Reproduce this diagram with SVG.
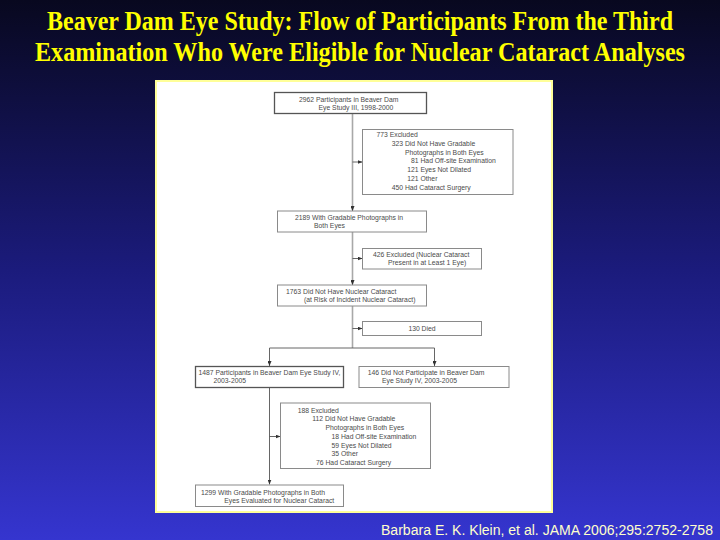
<svg xmlns="http://www.w3.org/2000/svg" width="720" height="540" viewBox="0 0 720 540">
<defs>
<linearGradient id="bg" x1="0" y1="0" x2="0" y2="1">
<stop offset="0" stop-color="#08081f"/>
<stop offset="0.5" stop-color="#1b1b7c"/>
<stop offset="1" stop-color="#3535cf"/>
</linearGradient>
<marker id="ah" markerUnits="userSpaceOnUse" markerWidth="5" markerHeight="4" refX="5" refY="2" orient="auto">
<path d="M0,0 L5,2 L0,4 z" fill="#333"/>
</marker>
<style>
.title{font-family:"Liberation Serif","Times New Roman",serif;font-weight:bold;font-size:23.5px;fill:#ffff00;text-anchor:middle}
.foot{font-family:"Liberation Sans",Arial,sans-serif;font-size:14px;fill:#ffffcc}
.box{fill:#fff;stroke:#8a8a8a;stroke-width:1}
.box.dk{stroke:#555;stroke-width:1.3}
.t{font-family:"Liberation Sans",Arial,sans-serif;font-size:6.8px;fill:#4a4a4a}
.c{text-anchor:middle}
.trunk{fill:none;stroke:#a8a8a8;stroke-width:1.6}
.ln{fill:none;stroke:#555;stroke-width:0.9}
</style>
</defs>
<rect x="0" y="0" width="720" height="540" fill="url(#bg)"/>
<g transform="translate(0,30) scale(1,1.12)"><text class="title" x="360" y="0" textLength="626" lengthAdjust="spacingAndGlyphs">Beaver Dam Eye Study: Flow of Participants From the Third</text></g>
<g transform="translate(0,61) scale(1,1.12)"><text class="title" x="360" y="0" textLength="650" lengthAdjust="spacingAndGlyphs">Examination Who Were Eligible for Nuclear Cataract Analyses</text></g>
<rect x="156" y="81" width="396" height="431" fill="#fff" stroke="#ffff99" stroke-width="2"/>
<text class="foot" x="381" y="535" textLength="332" lengthAdjust="spacingAndGlyphs">Barbara E. K. Klein, et al. JAMA 2006;295:2752-2758</text>

<g id="connectors">
<path class="trunk" d="M352.5,113 V210"/>
<path class="trunk" d="M352.5,232 V284"/>
<path class="trunk" d="M352.5,306 V348"/>
<path class="ln" d="M352.5,209 V211" marker-end="url(#ah)"/>
<path class="ln" d="M352.5,283 V285" marker-end="url(#ah)"/>
<path class="ln" d="M352.5,162 H362.5" marker-end="url(#ah)"/>
<path class="ln" d="M352.5,258.5 H362.5" marker-end="url(#ah)"/>
<path class="ln" d="M352.5,328.5 H362.5" marker-end="url(#ah)"/>
<path class="ln" d="M269.5,348 H434.5"/>
<path class="ln" d="M269.5,348 V366" marker-end="url(#ah)"/>
<path class="ln" d="M434.5,348 V366" marker-end="url(#ah)"/>
<path class="ln" d="M269.5,388 V484.5" marker-end="url(#ah)"/>
<path class="ln" d="M269.5,436.5 H280.5" marker-end="url(#ah)"/>
</g>

<g id="n1">
<rect class="box dk" x="274.5" y="92.5" width="152" height="21"/>
<text class="t" x="299" y="101.5">2962 Participants in Beaver Dam</text>
<text class="t" x="318.5" y="109.5">Eye Study III, 1998-2000</text>
</g>

<g id="n2">
<rect class="box" x="362.5" y="129.5" width="150.5" height="65"/>
<text class="t" x="376.5" y="137">773 Excluded</text>
<text class="t" x="391.7" y="145.8">323 Did Not Have Gradable</text>
<text class="t" x="405" y="154.6">Photographs in Both Eyes</text>
<text class="t" x="411" y="163.4">81 Had Off-site Examination</text>
<text class="t" x="407.2" y="172.2">121 Eyes Not Dilated</text>
<text class="t" x="407.2" y="181">121 Other</text>
<text class="t" x="391.7" y="189.8">450 Had Cataract Surgery</text>
</g>

<g id="n3">
<rect class="box" x="277.5" y="211" width="149" height="21"/>
<text class="t" x="295" y="219.5">2189 With Gradable Photographs in</text>
<text class="t" x="314" y="227.5">Both Eyes</text>
</g>

<g id="n4">
<rect class="box" x="362.5" y="248.5" width="119" height="20.5"/>
<text class="t" x="373" y="256.5">426 Excluded (Nuclear Cataract</text>
<text class="t" x="388" y="264.5">Present in at Least 1 Eye)</text>
</g>

<g id="n5">
<rect class="box" x="277.5" y="285" width="149" height="21"/>
<text class="t" x="286" y="293.5">1763 Did Not Have Nuclear Cataract</text>
<text class="t" x="304" y="301.5">(at Risk of Incident Nuclear Cataract)</text>
</g>

<g id="n6">
<rect class="box" x="362.5" y="321.5" width="119" height="14"/>
<text class="t c" x="422" y="331">130 Died</text>
</g>

<g id="n7">
<rect class="box dk" x="195.5" y="366.5" width="148" height="21"/>
<text class="t" x="198.5" y="375">1487 Participants in Beaver Dam Eye Study IV,</text>
<text class="t" x="213.5" y="383">2003-2005</text>
</g>

<g id="n8">
<rect class="box" x="359" y="366.5" width="150" height="21"/>
<text class="t" x="367.7" y="375">146 Did Not Participate in Beaver Dam</text>
<text class="t" x="382" y="383">Eye Study IV, 2003-2005</text>
</g>

<g id="n9">
<rect class="box" x="280.5" y="403" width="150" height="65.5"/>
<text class="t" x="297.7" y="412.5">188 Excluded</text>
<text class="t" x="312.3" y="421.3">112 Did Not Have Gradable</text>
<text class="t" x="325.5" y="430">Photographs in Both Eyes</text>
<text class="t" x="331.5" y="438.8">18 Had Off-site Examination</text>
<text class="t" x="331.5" y="447.5">59 Eyes Not Dilated</text>
<text class="t" x="331.5" y="456.3">35 Other</text>
<text class="t" x="316" y="465">76 Had Cataract Surgery</text>
</g>

<g id="n10">
<rect class="box" x="195.5" y="485" width="148" height="21.5"/>
<text class="t" x="201" y="494.5">1299 With Gradable Photographs in Both</text>
<text class="t" x="224.3" y="502.5">Eyes Evaluated for Nuclear Cataract</text>
</g>
</svg>
